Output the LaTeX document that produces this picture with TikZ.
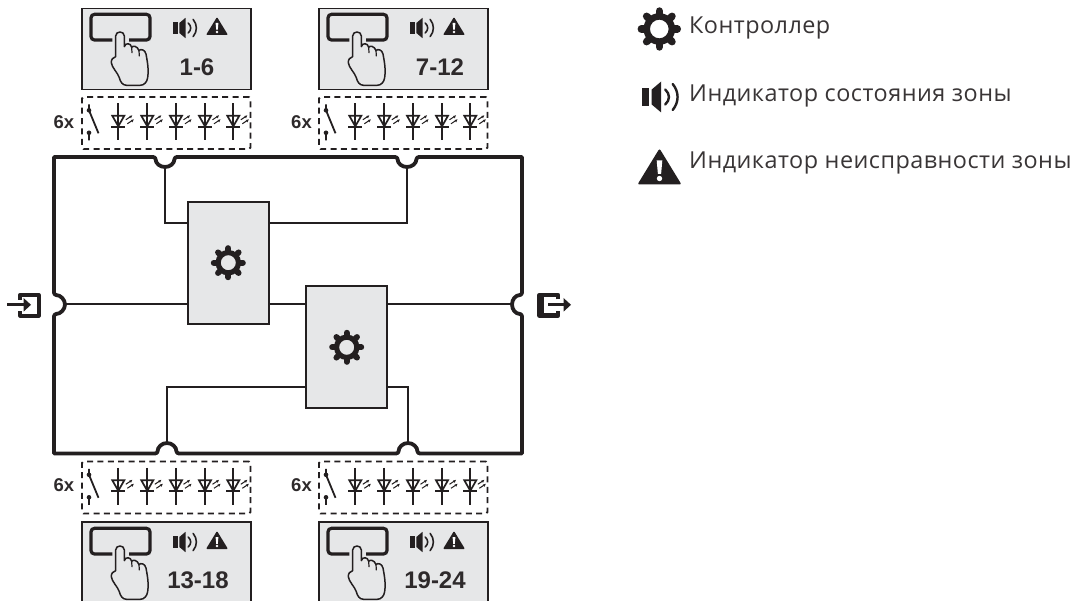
\documentclass[tikz,border=0pt]{standalone}
\usepackage{fontspec}
\setmainfont{Liberation Sans}
\newfontfamily\legendfont[LetterSpace=2.0]{Open Sans}
\definecolor{ink}{HTML}{231F20}
\definecolor{boxfill}{HTML}{E6E7E8}
\tikzset{
  panelbox/.style={draw=ink,fill=boxfill,line width=1.8pt,anchor=north west,inner sep=0pt,outer sep=0pt,minimum width=169pt,minimum height=81pt},
  ctrlbox/.style={draw=ink,fill=boxfill,line width=1.8pt,anchor=north west,inner sep=0pt,outer sep=0pt,minimum width=81pt,minimum height=122pt},
  zonelabel/.style={font=\bfseries\fontsize{24}{27}\selectfont,text=ink!95,inner sep=0pt},
  countlabel/.style={font=\bfseries\fontsize{18.5}{22}\selectfont,text=ink!95,inner sep=0pt},
  legendlabel/.style={font=\legendfont\fontsize{23.4}{28}\selectfont,text=ink!90,anchor=base west,inner sep=0pt},
  wire/.style={draw=ink,line width=1.8pt},
  frameline/.style={draw=ink,line width=3.8pt,line join=round},
  ledbox/.style={draw=ink,line width=1.8pt,dash pattern=on 6pt off 4.4pt,rounded corners=1.5pt,anchor=north west,inner sep=0pt,outer sep=0pt,minimum width=168.5pt,minimum height=52pt}
}
% gear: centre x,y and outer radius
\newcommand{\geargl}[3]{%
  \begin{scope}[shift={(#1,#2)}]
    \fill[ink,even odd rule] (0,0) circle[radius=0.73*#3] circle[radius=0.43*#3];
    \foreach \a in {0,45,...,315}
      \draw[ink,line width=#3*0.34pt,line cap=round] (\a:0.66*#3) -- (\a:0.83*#3);
  \end{scope}}
% speaker: left of bar, mid height, scale
\newcommand{\speakergl}[3]{%
  \begin{scope}[shift={(#1,#2)},scale=#3]
    \fill[ink] (0,-9) rectangle (7.5,9);
    \fill[ink] (10,-7.5) -- (19.5,-15.5) -- (19.5,15.5) -- (10,7.5) -- cycle;
    \draw[ink,line width=#3*2.4pt,line cap=round] (23.5,-7.5) .. controls (28.5,-3) and (28.5,3) .. (23.5,7.5);
    \draw[ink,line width=#3*2.4pt,line cap=round] (31,-13) .. controls (37.5,-5) and (37.5,5) .. (31,13);
  \end{scope}}
% warning triangle: apex x,y and scale
\newcommand{\warngl}[3]{%
  \begin{scope}[shift={(#1,#2)},scale=#3]
    \fill[ink,rounded corners=#3*2pt] (0,-1) -- (22,35) -- (-22,35) -- cycle;
    \fill[white] (-2.8,11) -- (2.8,11) -- (1.6,24.5) -- (-1.6,24.5) -- cycle;
    \fill[white] (0,29) circle[radius=2.7];
  \end{scope}}
% content of an operator panel, coordinates relative to its top left corner
\newcommand{\panelgl}[2]{%
  \begin{scope}[shift={(#1,#2)}]
    \begin{scope}[shift={(3,2)},scale=1/3]
      \draw[ink,line width=3.2pt,rounded corners=3.5pt] (82,90) -- (18,90) -- (18,13) -- (195,13) -- (195,90) -- (132,90);
      \draw[ink,line width=1.5pt,line join=round,line cap=round]
        (92,140) -- (92,78) .. controls (92,62) and (118,62) .. (118,78) -- (118,110)
        .. controls (120,98) and (138,98) .. (140,112)
        .. controls (143,106) and (158,108) .. (162,122)
        .. controls (166,116) and (180,118) .. (183,132)
        .. controls (186,150) and (192,175) .. (188,203)
        .. controls (186,216) and (178,226) .. (165,226)
        -- (125,226) .. controls (112,226) and (106,215) .. (103,203)
        .. controls (98,188) and (80,172) .. (79,158)
        .. controls (78,148) and (85,142) .. (92,140);
      \draw[ink,line width=1.2pt,line cap=round] (140,112) -- (141,128) (162,122) -- (163,138);
    \end{scope}
    \speakergl{90.7}{20}{0.66}
    \warngl{135}{9.5}{0.5}
  \end{scope}}
% contact and LED row, coordinates relative to its dashed box
\newcommand{\ledgl}{%
  \begin{scope}[shift={(0,-0.7)}]
    \fill[ink] (7,14) circle[radius=2.3] (7,36.5) circle[radius=2.3];
    \draw[ink,line width=1.8pt] (7,8) -- (7,14) -- (16.5,37) (7,36.5) -- (7,44);
    \foreach \x in {36.3,65.3,94,123,151.3}{
      \begin{scope}[shift={(\x,0)}]
        \draw[ink,line width=1.9pt] (0,7) -- (0,44) (-7,30.5) -- (7,30.5);
        \draw[ink,line width=1.7pt,line join=miter] (-6,19.5) -- (6,19.5) -- (0,30) -- cycle;
        \draw[ink,line width=1pt] (7.5,23.5) -- (12,20.5) (9,27.5) -- (13.5,24.5);
        \fill[ink] (14,19) -- (11,19.8) -- (12.7,22) -- cycle (15.5,23) -- (12.5,23.8) -- (14.2,26) -- cycle;
      \end{scope}}
  \end{scope}}
\begin{document}
\begin{tikzpicture}[x=1pt,y=-1pt]
\useasboundingbox (0,0) rectangle (1075,601);
\clip (0,0) rectangle (1075,601);
\fill[white] (0,0) rectangle (1075,601);

% operator panels
\node[panelbox] (panelA) at (82,8.5) {};
\node[panelbox] (panelB) at (319,8.5) {};
\node[panelbox] (panelC) at (82,522) {};
\node[panelbox] (panelD) at (319,522) {};
\panelgl{82}{8}
\panelgl{319}{8}
\panelgl{82}{522}
\panelgl{319}{522}
\node[zonelabel] (labA) at (197,67) {1-6};
\node[zonelabel] (labB) at (440,67) {7-12};
\node[zonelabel] (labC) at (198,580) {13-18};
\node[zonelabel] (labD) at (435,580) {19-24};

% dashed LED groups
\foreach \n/\x/\y in {ledA/82/97,ledB/319/97,ledC/82/461.5,ledD/319/461.5}{
  \node[ledbox] (\n) at (\x,\y) {};
  \begin{scope}[shift={(\x,\y)}]\ledgl\end{scope}
}
\node[countlabel] (cntA) at (64,122) {6x};
\node[countlabel] (cntB) at (301.5,122) {6x};
\node[countlabel] (cntC) at (64,485) {6x};
\node[countlabel] (cntD) at (301.5,485) {6x};

% main loop
\draw[frameline] (54,157) -- (153,157)
  .. controls (154.5,157) and (155.5,158) .. (155.5,159) .. controls (155.5,163.5) and (160,167) .. (165,167) .. controls (170,167) and (174.5,163.5) .. (174.5,159) .. controls (174.5,158) and (175.5,157) .. (177,157)
  -- (395,157)
  .. controls (396.5,157) and (397.5,158) .. (397.5,159) .. controls (397.5,163.5) and (402,167) .. (407,167) .. controls (412,167) and (416.5,163.5) .. (416.5,159) .. controls (416.5,158) and (417.5,157) .. (419,157)
  -- (522,157) -- (522,292.5)
  .. controls (522,294) and (521,295) .. (520,295) .. controls (515.5,295) and (512,299.5) .. (512,304.5) .. controls (512,309.5) and (515.5,314) .. (520,314) .. controls (521,314) and (522,315) .. (522,316.5)
  -- (522,453.5) -- (420,453.5)
  .. controls (418.5,453.5) and (417.5,452.5) .. (417.5,451.5) .. controls (417.5,447) and (413,443) .. (408,443) .. controls (403,443) and (398.5,447) .. (398.5,451.5) .. controls (398.5,452.5) and (397.5,453.5) .. (396,453.5)
  -- (179,453.5)
  .. controls (177.5,453.5) and (176.5,452.5) .. (176.5,451.5) .. controls (176.5,447) and (172,443) .. (167,443) .. controls (162,443) and (157.5,447) .. (157.5,451.5) .. controls (157.5,452.5) and (156.5,453.5) .. (155,453.5)
  -- (54,453.5) -- (54,316.5)
  .. controls (54,315) and (55,314) .. (56,314) .. controls (60.5,314) and (65,309.5) .. (65,304.5) .. controls (65,299.5) and (60.5,295) .. (56,295) .. controls (55,295) and (54,294) .. (54,292.5) -- cycle;

\coordinate (nt1) at (165,167);
\coordinate (nt2) at (407,167);
\coordinate (nb1) at (167,443);
\coordinate (nb2) at (408,443);
\coordinate (nl) at (65,304);
\coordinate (nr) at (512,304);
\coordinate (upLevel) at (0,223);
\coordinate (loLevel) at (0,387);

% controllers
\node[ctrlbox] (ctrlA) at (188,202) {};
\node[ctrlbox] (ctrlB) at (306,286) {};
\geargl{228.3}{262.7}{17.5}
\geargl{346.7}{347.3}{17.5}

% wiring
\draw[wire] (nt1) |- (ctrlA.west |- upLevel);
\draw[wire] (ctrlA.east |- upLevel) -| (nt2);
\draw[wire] (nl) -- (ctrlA.west |- nl);
\draw[wire] (ctrlA.east |- nl) -- (ctrlB.west |- nl);
\draw[wire] (ctrlB.east |- nl) -- (nr);
\draw[wire] (nb1) |- (ctrlB.west |- loLevel);
\draw[wire] (ctrlB.east |- loLevel) -| (nb2);

% input and output icons
\draw[ink,line width=4pt,line join=round] (20.3,299.7) -- (20.3,294.7) -- (38.5,294.7) -- (38.5,315.5) -- (20.3,315.5) -- (20.3,311);
\draw[ink,line width=3pt] (7,304.8) -- (25,304.8);
\fill[ink] (23.5,298) -- (31,304.8) -- (23.5,311.7) -- cycle;
\draw[ink,line width=4.5pt,line join=round] (558,299.5) -- (558,295) -- (539.5,295) -- (539.5,315.5) -- (558,315.5) -- (558,311);
\draw[ink,line width=7pt] (540.5,296) -- (540.5,314);
\draw[ink,line width=3pt] (548,304.8) -- (565,304.8);
\fill[ink] (563.5,298) -- (571,304.8) -- (563.5,311.7) -- cycle;

% legend
\geargl{659.3}{29}{21.7}
\speakergl{641.7}{97}{1}
\warngl{659.5}{149.5}{1}
\node[legendlabel] (legA) at (689,33.5) {Контроллер};
\node[legendlabel] (legB) at (689,101.5) {Индикатор состояния зоны};
\node[legendlabel] (legC) at (689,169) {Индикатор неисправности зоны};
\end{tikzpicture}
\end{document}
